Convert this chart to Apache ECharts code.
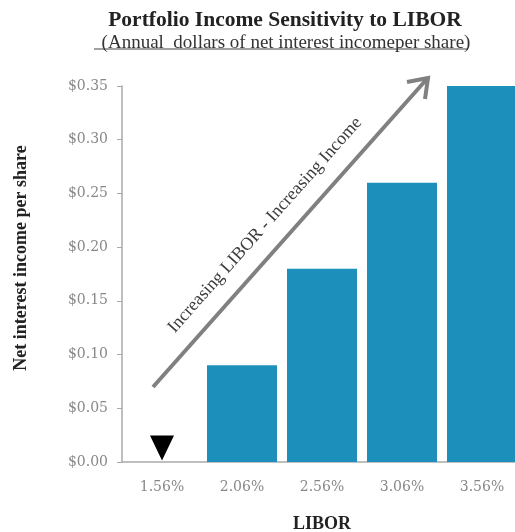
<!DOCTYPE html>
<html><head><meta charset="utf-8">
<script src="https://cdn.jsdelivr.net/npm/echarts@6/dist/echarts.min.js"></script>
<style>html,body{margin:0;padding:0;background:#fff}#c{width:515px;height:532px}</style>
</head><body><div id="c"></div>
<script>
const categories = ['1.56%', '2.06%', '2.56%', '3.06%', '3.56%'];
const incomeValues = [0, 0.09, 0.18, 0.26, 0.35];
const currentMarker = [['1.56%', 0.013]];
const yTicks = [0, 0.05, 0.10, 0.15, 0.20, 0.25, 0.30, 0.35];

const serif = 'Liberation Serif';
const chart = echarts.init(document.getElementById('c'));
chart.setOption({
  backgroundColor: '#fff',
  animation: false,
  title: [{
    text: 'Portfolio Income Sensitivity to LIBOR',
    left: 280, top: 4, textAlign: 'center',
    textStyle: { fontFamily: serif, fontWeight: 'bold', fontSize: 21.5, color: '#222' }
  }, {
    text: '(Annual  dollars of net interest incomeper share)',
    left: 281, top: 29, textAlign: 'center',
    textStyle: { fontFamily: serif, fontWeight: 'normal', fontSize: 19, color: '#333' }
  }],
  grid: { left: 122, top: 86, width: 400, bottom: 70, containLabel: false, outerBoundsMode: 'none' },
  xAxis: {
    type: 'category', data: categories,
    name: 'LIBOR', nameLocation: 'middle', nameGap: 53,
    nameTextStyle: { fontFamily: serif, fontWeight: 'bold', fontSize: 18, color: '#222' },
    axisLine: { lineStyle: { color: '#aaa', width: 1.5 } },
    axisTick: { show: false },
    axisLabel: { fontFamily: 'DejaVu Serif', fontSize: 14, color: '#888', margin: 18 }
  },
  yAxis: {
    type: 'value', min: 0, max: 0.35, interval: 0.05,
    name: 'Net interest income per share', nameLocation: 'middle', nameGap: 92,
    nameTextStyle: { fontFamily: serif, fontWeight: 'bold', fontSize: 18, color: '#222', padding: [0, 0, 0, 32] },
    axisLine: { show: true, lineStyle: { color: '#aaa', width: 1.5 } },
    axisTick: { show: true, length: 5, lineStyle: { color: '#aaa' } },
    splitLine: { show: false },
    axisLabel: { fontFamily: 'DejaVu Serif', fontSize: 14, color: '#888', margin: 14,
      formatter: v => '$' + v.toFixed(2) }
  },
  series: [{
    type: 'bar', data: incomeValues, barWidth: 70,
    itemStyle: { color: '#1d8fbb' }
  }, {
    type: 'scatter', data: currentMarker, symbol: 'triangle', symbolRotate: 180,
    symbolSize: [24, 25], itemStyle: { color: '#000', opacity: 1 }, z: 5
  }],
  graphic: [{
    type: 'line', shape: { x1: 153, y1: 387, x2: 426, y2: 80 },
    style: { stroke: '#808080', lineWidth: 4 }
  }, {
    type: 'polyline', shape: { points: [[407, 82], [428, 78], [425, 99]] },
    style: { stroke: '#808080', lineWidth: 4, fill: null }
  }, {
    type: 'text', x: 265, y: 225, rotation: 48.3 * Math.PI / 180,
    style: { text: 'Increasing LIBOR - Increasing Income', fontFamily: serif, fontSize: 18,
      fill: '#3c3c3c', align: 'center', verticalAlign: 'middle' }
  }, {
    type: 'line', shape: { x1: 94, y1: 49, x2: 468, y2: 49 },
    style: { stroke: '#444', lineWidth: 1 }
  }]
});
</script></body></html>
